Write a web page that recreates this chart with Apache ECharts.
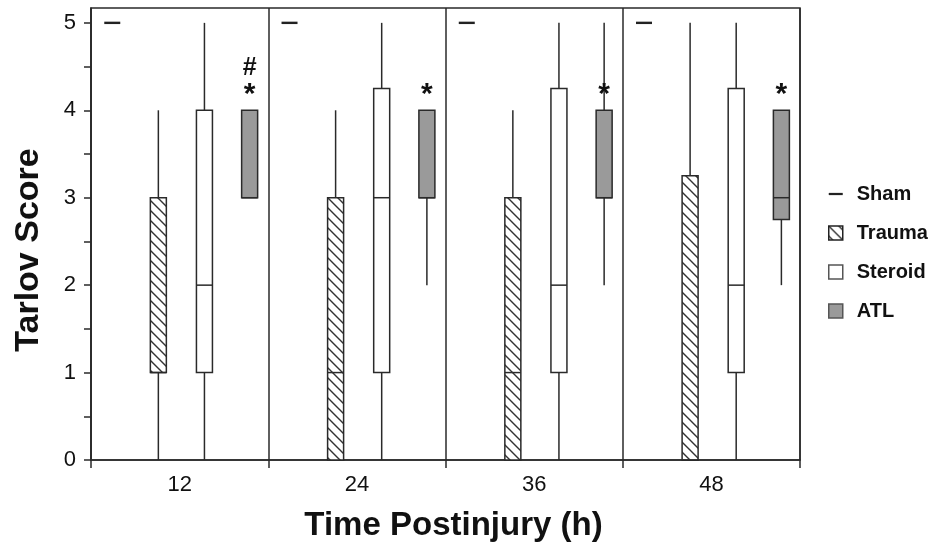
<!DOCTYPE html>
<html><head><meta charset="utf-8">
<script src="https://cdn.jsdelivr.net/npm/echarts@6/dist/echarts.min.js"></script>
<style>html,body{margin:0;padding:0;background:#fff}#c{width:930px;height:550px}</style>
</head><body><div id="c"></div>
<script>
// ---- data ----
const times = ['12', '24', '36', '48'];
const groups = ['Sham', 'Trauma', 'Steroid', 'ATL'];
// each entry: [min, q1, median, q3, max] for one time point
const sham    = [[5, 5, 5, 5, 5], [5, 5, 5, 5, 5], [5, 5, 5, 5, 5], [5, 5, 5, 5, 5]];
const trauma  = [[0, 1, 1, 3, 4], [0, 0, 1, 3, 4], [0, 0, 1, 3, 4], [0, 0, 0, 3.25, 5]];
const steroid = [[0, 1, 2, 4, 5], [0, 1, 3, 4.25, 5], [0, 1, 2, 4.25, 5], [0, 1, 2, 4.25, 5]];
const atl     = [[3, 3, 3, 4, 4], [2, 3, 3, 4, 4], [2, 3, 3, 4, 5], [2, 2.75, 3, 4, 4]];
const atlMarks = [['#', '*'], ['*'], ['*'], ['*']];
const yLabels = [0, 1, 2, 3, 4, 5];
const yTicks = [0, 0.5, 1, 1.5, 2, 2.5, 3, 3.5, 4, 4.5, 5];

// ---- styling ----
const FONT = 'Liberation Sans, Arial, Helvetica, sans-serif';
const INK = '#2a2a2a';
const slotFrac = [0.12, 0.38, 0.64, 0.895];
const BOXW = 16;

function makeHatch() {
  const t = 10;
  const cv = document.createElement('canvas');
  cv.width = t; cv.height = t;
  const ctx = cv.getContext('2d');
  ctx.fillStyle = '#fff'; ctx.fillRect(0, 0, t, t);
  ctx.strokeStyle = '#333'; ctx.lineWidth = 1.4;
  ctx.beginPath();
  ctx.moveTo(-1, -1); ctx.lineTo(t + 1, t + 1);
  ctx.moveTo(-1, t - 1); ctx.lineTo(1, t + 1);
  ctx.moveTo(t - 1, -1); ctx.lineTo(t + 1, 1);
  ctx.stroke();
  return cv;
}
const hatch = { image: makeHatch(), repeat: 'repeat' };
const fills = { Sham: '#222', Trauma: hatch, Steroid: '#ffffff', ATL: '#9a9a9a' };

function toData(arr) { return arr.map((d, i) => [i].concat(d)); }

function makeRender(slot, fill, marks) {
  return function (params, api) {
    const t = api.value(0);
    const bw = api.size([1, 0])[0];
    const cx = api.coord([t, 0])[0] - bw / 2 + bw * slotFrac[slot];
    const y = k => api.coord([t, api.value(k)])[1];
    const yMin = y(1), yQ1 = y(2), yMed = y(3), yQ3 = y(4), yMax = y(5);
    const ls = { stroke: INK, lineWidth: 1.5 };
    const ch = [];
    if (Math.abs(yQ1 - yQ3) < 0.5) {
      ch.push({ type: 'line', shape: { x1: cx - BOXW / 2, y1: yMed, x2: cx + BOXW / 2, y2: yMed }, style: { stroke: '#222', lineWidth: 2.4 } });
    } else {
      if (yMax < yQ3 - 0.5) ch.push({ type: 'line', shape: { x1: cx, y1: yMax, x2: cx, y2: yQ3 }, style: ls });
      if (yMin > yQ1 + 0.5) ch.push({ type: 'line', shape: { x1: cx, y1: yQ1, x2: cx, y2: yMin }, style: ls });
      ch.push({ type: 'rect', shape: { x: cx - BOXW / 2, y: yQ3, width: BOXW, height: yQ1 - yQ3 }, style: { fill: fill, stroke: INK, lineWidth: 1.5 } });
      ch.push({ type: 'line', shape: { x1: cx - BOXW / 2, y1: yMed, x2: cx + BOXW / 2, y2: yMed }, style: ls });
    }
    if (marks && marks[t]) {
      const m = marks[t];
      for (let j = 0; j < m.length; j++) {
        const k = m.length - 1 - j;
        const isStar = m[k] === '*';
        ch.push({ type: 'text', x: cx, y: yQ3 - (isStar ? 16 : 20) - j * 22, style: { text: m[k], font: 'bold ' + (isStar ? 30 : 25) + 'px ' + FONT, fill: '#111', align: 'center', verticalAlign: 'middle' } });
      }
    }
    return { type: 'group', children: ch };
  };
}

const seriesData = [sham, trauma, steroid, atl];
const series = groups.map((g, gi) => ({
  name: g,
  type: 'custom',
  renderItem: makeRender(gi, fills[g], g === 'ATL' ? atlMarks : null),
  itemStyle: { color: gi === 1 ? '#555' : fills[g] },
  encode: { x: 0, y: [1, 2, 3, 4, 5] },
  data: toData(seriesData[gi]),
  silent: true
}));

const chart = echarts.init(document.getElementById('c'), null, { renderer: 'canvas' });
chart.setOption({
  animation: false,
  backgroundColor: '#fff',
  textStyle: { fontFamily: FONT },
  grid: { left: 91, right: 130, top: 8, bottom: 90, show: true, borderColor: INK, borderWidth: 1.5, backgroundColor: 'transparent', containLabel: false, outerBoundsMode: 'none' },
  legend: {
    orient: 'vertical', left: 823, top: 179, itemWidth: 14, itemHeight: 14, itemGap: 19,
    selectedMode: false, symbolKeepAspect: true,
    textStyle: { fontFamily: FONT, fontWeight: 'bold', fontSize: 20, color: '#111', padding: [0, 0, 0, 9], lineHeight: 20 },
    data: [
      { name: 'Sham', icon: 'path://M0,0h15v2.4h-15z', itemStyle: { color: '#222', borderWidth: 0 } },
      { name: 'Trauma', icon: 'rect', itemStyle: { color: hatch, borderColor: '#222', borderWidth: 1.5 } },
      { name: 'Steroid', icon: 'rect', itemStyle: { color: '#fff', borderColor: '#555', borderWidth: 1.5 } },
      { name: 'ATL', icon: 'rect', itemStyle: { color: '#9a9a9a', borderColor: '#555', borderWidth: 1.5 } }
    ]
  },
  xAxis: {
    type: 'category', data: times, boundaryGap: true,
    axisLine: { lineStyle: { color: INK, width: 1.5 } },
    axisTick: { show: true, length: 8, lineStyle: { color: INK, width: 1.5 } },
    axisLabel: { fontSize: 22, color: '#111', margin: 14, fontFamily: FONT },
    splitLine: { show: true, lineStyle: { color: INK, width: 1.5 } },
    name: 'Time Postinjury (h)', nameLocation: 'middle', nameGap: 49,
    nameTextStyle: { fontSize: 33, fontWeight: 'bold', color: '#111', fontFamily: FONT, padding: [0, 0, 0, 16] }
  },
  yAxis: {
    type: 'value', min: 0, max: 5.17, interval: 1,
    axisLine: { show: true, lineStyle: { color: INK, width: 1.5 } },
    axisTick: { show: true, length: 7, customValues: yTicks, lineStyle: { color: INK, width: 1.5 } },
    axisLabel: { customValues: yLabels, fontSize: 22, color: '#111', margin: 15, fontFamily: FONT },
    splitLine: { show: false },
    name: 'Tarlov Score', nameLocation: 'middle', nameGap: 45, nameRotate: 90,
    nameTextStyle: { fontSize: 34, fontWeight: 'bold', color: '#111', fontFamily: FONT, padding: [0, 32, 0, 0] }
  },
  series: series
});
</script></body></html>
